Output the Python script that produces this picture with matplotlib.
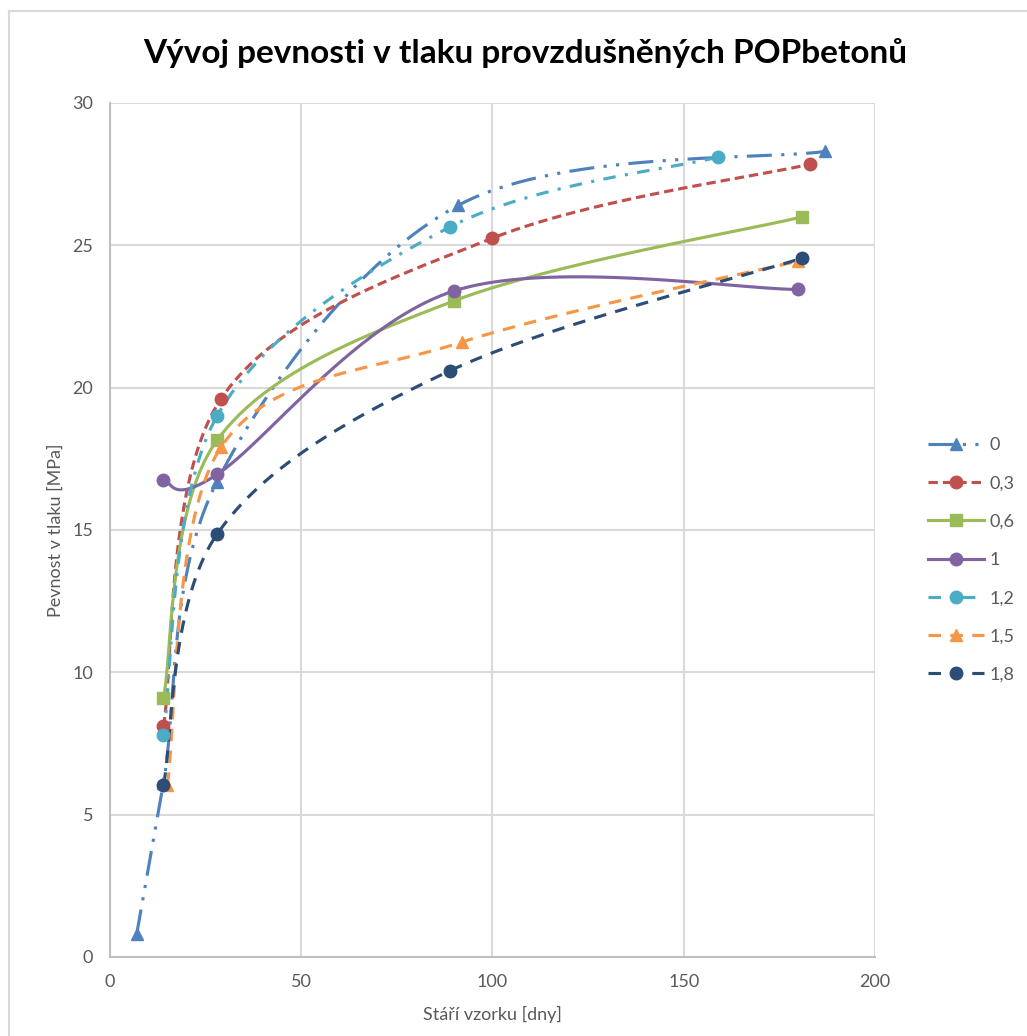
import numpy as np
import matplotlib.pyplot as plt
from matplotlib.lines import Line2D

plt.rcParams['font.family'] = ['Lato', 'DejaVu Sans']

# Stáří vzorků [dny] a pevnosti v tlaku [MPa] pro jednotlivé dávky provzdušnění
labels = ['0', '0,3', '0,6', '1', '1,2', '1,5', '1,8']
x_0 = [7, 14, 28, 91, 187]
y_0 = [0.8, 6.1, 16.7, 26.4, 28.3]
x_03 = [14, 29, 100, 183]
y_03 = [8.1, 19.6, 25.25, 27.85]
x_06 = [14, 28, 90, 181]
y_06 = [9.1, 18.15, 23.05, 26.0]
x_1 = [14, 28, 90, 180]
y_1 = [16.75, 16.95, 23.4, 23.45]
x_12 = [14, 28, 89, 159]
y_12 = [7.8, 19.0, 25.65, 28.1]
x_15 = [15, 29, 92, 180]
y_15 = [6.05, 17.9, 21.6, 24.45]
x_18 = [14, 28, 89, 181]
y_18 = [6.05, 14.85, 20.6, 24.55]

series_x = [x_0, x_03, x_06, x_1, x_12, x_15, x_18]
series_y = [y_0, y_03, y_06, y_1, y_12, y_15, y_18]

colors = ['#4F81BD', '#C0504D', '#9BBB59', '#8064A2', '#4BACC6', '#F79646', '#2C4D75']
markers = ['^', 'o', 's', 'o', 'o', '^', 'o']
styles = [(0, (8, 3, 1, 3, 1, 3)), (0, (3, 1.6)), '-', '-',
          (0, (4, 3, 1, 3)), (0, (4, 3)), (0, (4, 3))]


def smooth(xs, ys, n=40):
    # vyhlazená křivka jako v Excelu (Bézierovy segmenty, Catmull-Rom)
    p = np.column_stack([xs, ys]).astype(float)
    out = [p[0]]
    for i in range(len(p) - 1):
        p0 = p[i - 1] if i > 0 else p[i]
        p3 = p[i + 2] if i + 2 < len(p) else p[i + 1]
        c1 = p[i] + (p[i + 1] - p0) / 6
        c2 = p[i + 1] - (p3 - p[i]) / 6
        t = np.linspace(0, 1, n + 1)[1:, None]
        seg = ((1 - t) ** 3 * p[i] + 3 * (1 - t) ** 2 * t * c1
               + 3 * (1 - t) * t ** 2 * c2 + t ** 3 * p[i + 1])
        out.extend(seg)
    return np.array(out)


fig = plt.figure(figsize=(10.27, 10.36), dpi=100)
ax = fig.add_axes([0.107, 0.0763, 0.745, 0.8243])

handles = []
for xs, ys, c, m, ls, lab in zip(series_x, series_y, colors, markers, styles, labels):
    curve = smooth(xs, ys)
    ax.plot(curve[:, 0], curve[:, 1], color=c, lw=2.25, linestyle=ls,
            dash_capstyle='butt', zorder=3)
    ax.plot(xs, ys, linestyle='none', marker=m, color=c, markersize=9,
            markeredgecolor=c, zorder=4)
    handles.append(Line2D([], [], color=c, lw=2.25, linestyle=ls, marker=m,
                          markersize=9, label=lab))

ax.set_xlim(0, 200)
ax.set_ylim(0, 30)
ax.set_xticks(np.arange(0, 201, 50))
ax.set_yticks(np.arange(0, 31, 5))
ax.grid(True, color='#D9D9D9', lw=1.5)
ax.set_axisbelow(True)
for s in ['top', 'right']:
    ax.spines[s].set_visible(False)
for s in ['left', 'bottom']:
    ax.spines[s].set_color('#BFBFBF')
    ax.spines[s].set_linewidth(1.5)
ax.tick_params(length=0, labelsize=13, labelcolor='#595959', pad=12)

ax.set_xlabel('Stáří vzorku [dny]', fontsize=13, color='#595959', labelpad=12)
ax.set_ylabel('Pevnost v tlaku [MPa]', fontsize=13, color='#595959', labelpad=6)

fig.text(0.511, 0.949, 'Vývoj pevnosti v tlaku provzdušněných POPbetonů',
         ha='center', va='center', fontsize=24, fontweight='bold', color='black')

fig.legend(handles=handles, loc='center left', bbox_to_anchor=(0.888, 0.4595),
           frameon=False, fontsize=13, handlelength=3.1, labelspacing=1.23,
           labelcolor='#595959', handletextpad=0.3)

# rámeček oblasti grafu
fig.add_artist(Line2D([0.009, 0.009], [0.0, 0.9894], transform=fig.transFigure,
                      color='#D9D9D9', lw=1.5))
fig.add_artist(Line2D([0.009, 1.0], [0.9894, 0.9894], transform=fig.transFigure,
                      color='#D9D9D9', lw=1.5))

fig.savefig('out.png', dpi=100)
